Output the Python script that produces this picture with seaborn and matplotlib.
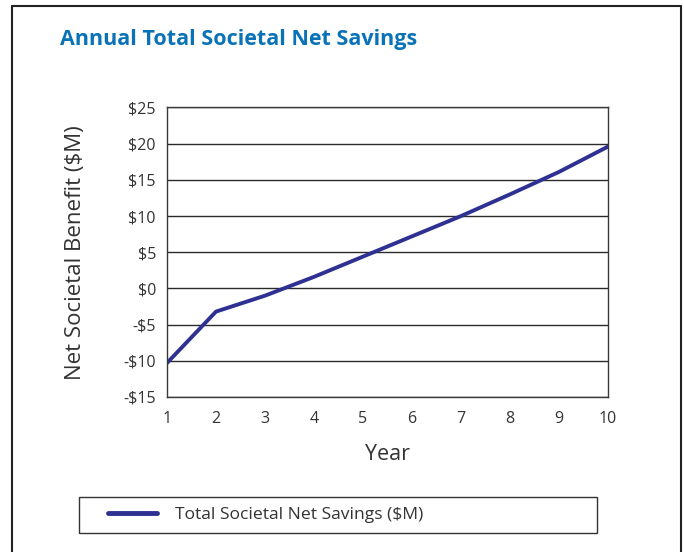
import pandas as pd
import seaborn as sns
from matplotlib import pyplot as plt
from matplotlib.lines import Line2D
from matplotlib.patches import Rectangle
from matplotlib.ticker import FuncFormatter

years = [1, 2, 3, 4, 5, 6, 7, 8, 9, 10]
net_savings = [-10.3, -3.2, -1.0, 1.6, 4.4, 7.2, 10.0, 13.0, 16.1, 19.6]
series_name = "Total Societal Net Savings ($M)"
y_ticks = [-15, -10, -5, 0, 5, 10, 15, 20, 25]

df = pd.DataFrame({"Year": years, "Savings": net_savings, "Series": series_name})

sns.set_theme(style="white")
plt.rcParams["font.family"] = ["Open Sans", "DejaVu Sans"]

fig = plt.figure(figsize=(6.84, 5.52), dpi=100)
ax = fig.add_axes([167 / 684, 155 / 552, 441 / 684, 289.5 / 552])

sns.lineplot(data=df, x="Year", y="Savings", hue="Series", palette=["#2E3192"],
             linewidth=2.8, ax=ax)

ax.set_xlim(1, 10)
ax.set_ylim(-15, 25)
ax.set_xticks(years)
ax.set_yticks(y_ticks)
ax.yaxis.set_major_formatter(FuncFormatter(lambda v, _: f"-${abs(int(v))}" if v < 0 else f"${int(v)}"))
ax.grid(axis="y", color="#2a2a2a", linewidth=1)
ax.set_axisbelow(True)
for spine in ax.spines.values():
    spine.set_color("#3a3a3a")
    spine.set_linewidth(1)
ax.tick_params(axis="both", which="major", direction="out", length=6, width=1,
               color="#3a3a3a", labelsize=11.5, labelcolor="#333333")
ax.tick_params(axis="x", pad=4)
ax.tick_params(axis="y", pad=2)

ax.set_xlabel("Year", fontsize=15.5, color="#333333", labelpad=12)
ax.set_ylabel("Net Societal Benefit ($M)", fontsize=16, color="#333333", labelpad=27)

fig.text(60 / 684, 1 - 40 / 552, "Annual Total Societal Net Savings", fontsize=15.5,
         fontweight="bold", color="#0A73B8", va="center", ha="left")

# legend box drawn separately, legend itself frameless inside it
fig.add_artist(Rectangle((79 / 684, 19 / 552), 518 / 684, 36 / 552, transform=fig.transFigure,
                         fill=False, edgecolor="#333333", linewidth=1))
handles, labels = ax.get_legend_handles_labels()
leg = ax.legend(handles, labels, loc="center left",
                bbox_to_anchor=(108 / 684, 37 / 552), bbox_transform=fig.transFigure,
                frameon=False, fontsize=12.6, handlelength=2.8, handletextpad=1.05,
                borderpad=0, borderaxespad=0)
for line in leg.get_lines():
    line.set_linewidth(3.5)
for txt in leg.get_texts():
    txt.set_color("#333333")

# outer frame (no bottom edge)
frame_kw = dict(color="#222222", linewidth=1.5, transform=fig.transFigure)
fig.add_artist(Line2D([12 / 684, 12 / 684], [0, 1 - 6 / 552], **frame_kw))
fig.add_artist(Line2D([12 / 684, 681 / 684], [1 - 6 / 552, 1 - 6 / 552], **frame_kw))
fig.add_artist(Line2D([681 / 684, 681 / 684], [0, 1 - 6 / 552], **frame_kw))

fig.savefig("out.png", dpi=100)
